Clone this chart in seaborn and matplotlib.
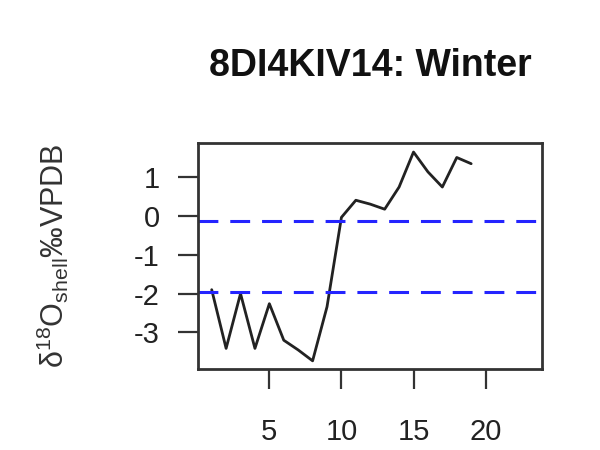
import numpy as np
import pandas as pd
import seaborn as sns
import matplotlib.pyplot as plt

# sample number along the shell and d18O values
sample = list(range(1, 20))
d18o = [-1.90, -3.41, -2.00, -3.41, -2.26, -3.20, -3.45, -3.73, -2.34, -0.04,
        0.40, 0.30, 0.17, 0.74, 1.64, 1.13, 0.74, 1.50, 1.34]
# reference levels (dashed lines)
levels = [-0.13, -1.96]
title = '8DI4KIV14: Winter'

df = pd.DataFrame({'sample': sample, 'd18o': d18o})

sns.set_style('white')
plt.rcParams['font.family'] = ['Liberation Sans', 'DejaVu Sans']
plt.rcParams['mathtext.default'] = 'regular'
plt.rcParams['axes.unicode_minus'] = False

fig = plt.figure(figsize=(6, 4.5), dpi=100)
ax = fig.add_axes([0.33, 0.18, 0.573, 0.502])

sns.lineplot(data=df, x='sample', y='d18o', color='#222222', linewidth=2.0, ax=ax)
for lv in levels:
    ax.axhline(lv, color='#2424ff', linewidth=2.2, linestyle=(0, (6.5, 3.9)))

ax.set_xlim(0.05, 23.9)
ax.set_ylim(-3.94, 1.87)
ax.set_xticks([5, 10, 15, 20])
ax.set_yticks([1, 0, -1, -2, -3])
ax.tick_params(axis='both', direction='out', length=14.5, width=1.6,
               colors='#333333', labelsize=21, labelcolor='#222222')
ax.tick_params(axis='x', pad=21)
ax.tick_params(axis='y', pad=13)
ax.tick_params(left=True, bottom=True)
for s in ax.spines.values():
    s.set_linewidth(2)
    s.set_color('#333333')

ax.set_xlabel('')
ax.set_ylabel(r'$\delta^{18}O_{shell}$‰VPDB', fontsize=22, color='#333333')
ax.yaxis.set_label_coords(-0.37, 0.5)
ax.set_title(title, fontsize=27, fontweight='bold', pad=48, color='#111111')

fig.savefig('out.png', dpi=100)
